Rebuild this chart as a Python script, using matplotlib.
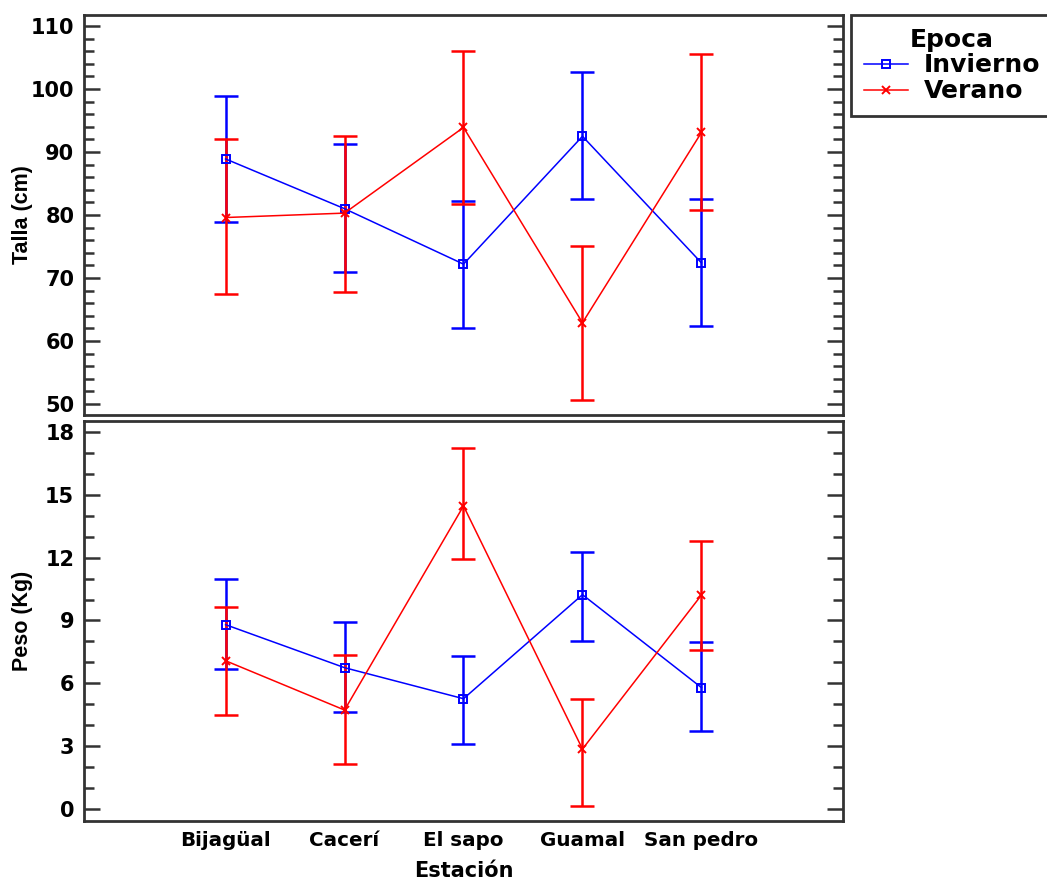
import matplotlib.pyplot as plt
from matplotlib.lines import Line2D
from matplotlib.ticker import MultipleLocator

# stations, in plotting order
estaciones = ['Bijagüal', 'Cacerí', 'El sapo', 'Guamal', 'San pedro']
x_pos = [1, 2, 3, 4, 5]

# Talla (cm): mean, lower and upper interval limits
talla_inv = [88.9, 81.0, 72.2, 92.5, 72.4]
talla_inv_lo = [78.9, 71.0, 62.1, 82.5, 62.4]
talla_inv_hi = [98.9, 91.2, 82.2, 102.7, 82.5]
talla_ver = [79.6, 80.3, 93.9, 62.9, 93.1]
talla_ver_lo = [67.5, 67.8, 81.7, 50.6, 80.8]
talla_ver_hi = [92.0, 92.6, 106.1, 75.0, 105.6]

# Peso (Kg)
peso_inv = [8.8, 6.75, 5.27, 10.23, 5.8]
peso_inv_lo = [6.67, 4.65, 3.11, 8.04, 3.72]
peso_inv_hi = [10.96, 8.91, 7.32, 12.26, 7.96]
peso_ver = [7.08, 4.73, 14.46, 2.87, 10.21]
peso_ver_lo = [4.49, 2.14, 11.95, 0.16, 7.59]
peso_ver_hi = [9.66, 7.34, 17.21, 5.26, 12.80]

BLUE = '#0000ff'
RED = '#ff0000'
SPINE = '#333333'
BOLD = {'family': 'DejaVu Sans', 'weight': 'bold'}

fig = plt.figure(figsize=(10.47, 8.82), dpi=100)
ax_top = fig.add_axes([84 / 1047, 1 - 415 / 882, 759 / 1047, 400 / 882])
ax_bot = fig.add_axes([84 / 1047, 1 - 821 / 882, 759 / 1047, 400 / 882])


def draw(ax, mean, lo, hi, color, marker):
    yerr = [[m - l for m, l in zip(mean, lo)], [h - m for m, h in zip(mean, hi)]]
    ax.errorbar(x_pos, mean, yerr=yerr, fmt='none', ecolor=color,
                elinewidth=1.8, capsize=8.6, capthick=1.8, zorder=2)
    ax.plot(x_pos, mean, color=color, lw=1.1, marker=marker, ms=6.2,
            mfc='none', mec=color, mew=1.4, zorder=3)


draw(ax_top, talla_inv, talla_inv_lo, talla_inv_hi, BLUE, 's')
draw(ax_top, talla_ver, talla_ver_lo, talla_ver_hi, RED, 'x')
draw(ax_bot, peso_inv, peso_inv_lo, peso_inv_hi, BLUE, 's')
draw(ax_bot, peso_ver, peso_ver_lo, peso_ver_hi, RED, 'x')

ax_top.set_ylim(48.25, 111.75)
ax_top.yaxis.set_major_locator(MultipleLocator(10))
ax_top.yaxis.set_minor_locator(MultipleLocator(2))
ax_bot.set_ylim(-0.56, 18.51)
ax_bot.yaxis.set_major_locator(MultipleLocator(3))
ax_bot.yaxis.set_minor_locator(MultipleLocator(1))

for ax in (ax_top, ax_bot):
    ax.set_xlim(-0.19, 6.19)
    for sp in ax.spines.values():
        sp.set_color(SPINE)
        sp.set_linewidth(2.0)
    ax.tick_params(axis='y', which='both', direction='in', left=True, right=True,
                   color=SPINE, width=1.8)
    ax.tick_params(axis='y', which='major', length=11.5, pad=7)
    ax.tick_params(axis='y', which='minor', length=7)
    for lab in ax.get_yticklabels():
        lab.set_fontfamily('DejaVu Sans')
        lab.set_fontweight('bold')
        lab.set_fontsize(15)
    ax.set_xticks(x_pos)
    ax.tick_params(axis='x', length=0, pad=7)

ax_top.set_xticklabels([])
ax_bot.set_xticklabels(estaciones, fontsize=14.3, **BOLD)

ax_top.set_ylabel('Talla (cm)', fontfamily='Liberation Sans', fontweight='bold', fontsize=15.5)
ax_bot.set_ylabel('Peso (Kg)', fontfamily='Liberation Sans', fontweight='bold', fontsize=15.5)
ax_top.yaxis.set_label_coords(-0.067, 0.5)
ax_bot.yaxis.set_label_coords(-0.067, 0.5)

ax_bot.set_xlabel('Estación', fontsize=15, **BOLD)
ax_bot.xaxis.set_label_coords(0.5, -0.1)

handles = [
    Line2D([], [], color=BLUE, lw=1.1, marker='s', ms=6.2, mfc='none', mew=1.4),
    Line2D([], [], color=RED, lw=1.1, marker='x', ms=6.2, mew=1.4),
]
leg = fig.legend(handles, ['Invierno', 'Verano'], title='Epoca',
                 loc='upper left', bbox_to_anchor=(851 / 1047, 1 - 15 / 882),
                 prop={**BOLD, 'size': 18},
                 title_fontproperties={**BOLD, 'size': 18},
                 frameon=True, fancybox=False, edgecolor=SPINE, framealpha=1,
                 handlelength=1.76, handletextpad=0.64, labelspacing=0.08,
                 borderpad=0.5, borderaxespad=0)
leg.get_frame().set_linewidth(2.0)

fig.savefig('out.png', dpi=100, facecolor='white')
